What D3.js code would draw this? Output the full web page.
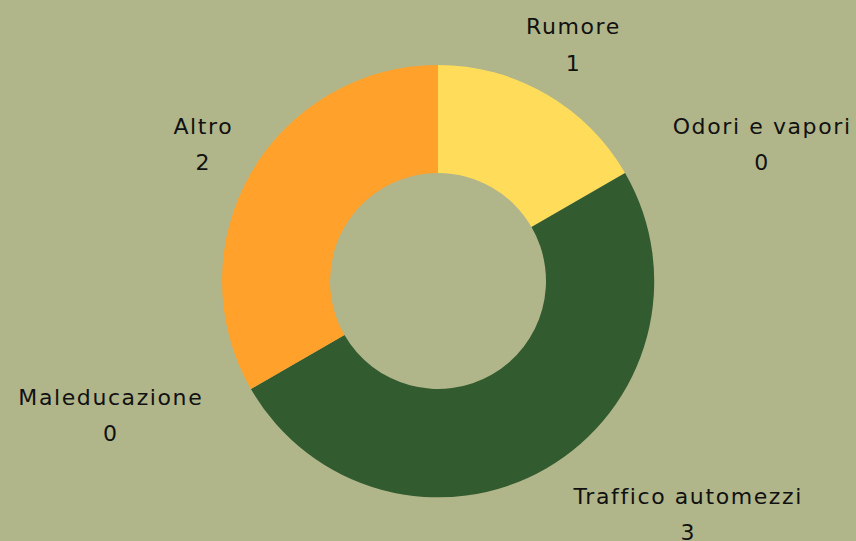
<!DOCTYPE html>
<html>
<head>
<meta charset="utf-8">
<script src="https://cdn.jsdelivr.net/npm/d3@7"></script>
<style>
  html, body { margin: 0; padding: 0; background: #b0b68a; }
  svg { display: block; }
  .label { font-family: "DejaVu Sans", sans-serif; font-size: 22px; fill: #111; letter-spacing: 1.6px; }
</style>
</head>
<body>
<div class="donut"></div>
<script>
const FRAME_WIDTH = 856;
const FRAME_HEIGHT = 541;

// data
const categories = ["Rumore", "Odori e vapori", "Traffico automezzi", "Maleducazione", "Altro"];
const values = [1, 0, 3, 0, 2];

// style
const colors = ["#ffdc5a", "#b8c27a", "#335b30", "#8a8a5a", "#ffa12a"];
const anchors = ["middle", "start", "start", "end", "middle"];

const CX = 438, CY = 281;
const OUTER = 216, INNER = 108, LABEL_R = 271;

const FRAME = d3.select(".donut")
    .append("svg")
    .attr("width", FRAME_WIDTH)
    .attr("height", FRAME_HEIGHT);

const data = categories.map((c, i) => ({name: c, value: values[i], i: i}));

const pie = d3.pie().sort(null).value((d) => d.value);
const arcs = pie(data);

const arc = d3.arc().innerRadius(INNER).outerRadius(OUTER);
const labelArc = d3.arc().innerRadius(LABEL_R).outerRadius(LABEL_R);

const G = FRAME.append("g")
    .attr("transform", "translate(" + CX + "," + CY + ")");

G.selectAll(".slice")
    .data(arcs)
    .enter().append("path")
    .attr("class", "slice")
    .attr("d", arc)
    .attr("fill", (d) => colors[d.data.i]);

// labels: name + value
const labels = G.selectAll(".label")
    .data(arcs)
    .enter().append("text")
    .attr("class", "label")
    .attr("text-anchor", (d) => anchors[d.data.i])
    .attr("transform", (d) => "translate(" + labelArc.centroid(d) + ")");

labels.append("tspan")
    .attr("x", 0)
    .attr("y", -12)
    .text((d) => d.data.name);

labels.append("tspan")
    .attr("x", 0)
    .attr("y", 24.5)
    .text((d) => d.data.value);

// center the value line under the name
labels.each(function(d) {
    const t = d3.select(this);
    const w = t.select("tspan").node().getComputedTextLength();
    const a = anchors[d.data.i];
    const shift = a === "start" ? w / 2 : (a === "end" ? -w / 2 : 0);
    t.selectAll("tspan").filter((_, k) => k === 1)
        .attr("text-anchor", "middle")
        .attr("x", shift);
});
</script>
</body>
</html>
